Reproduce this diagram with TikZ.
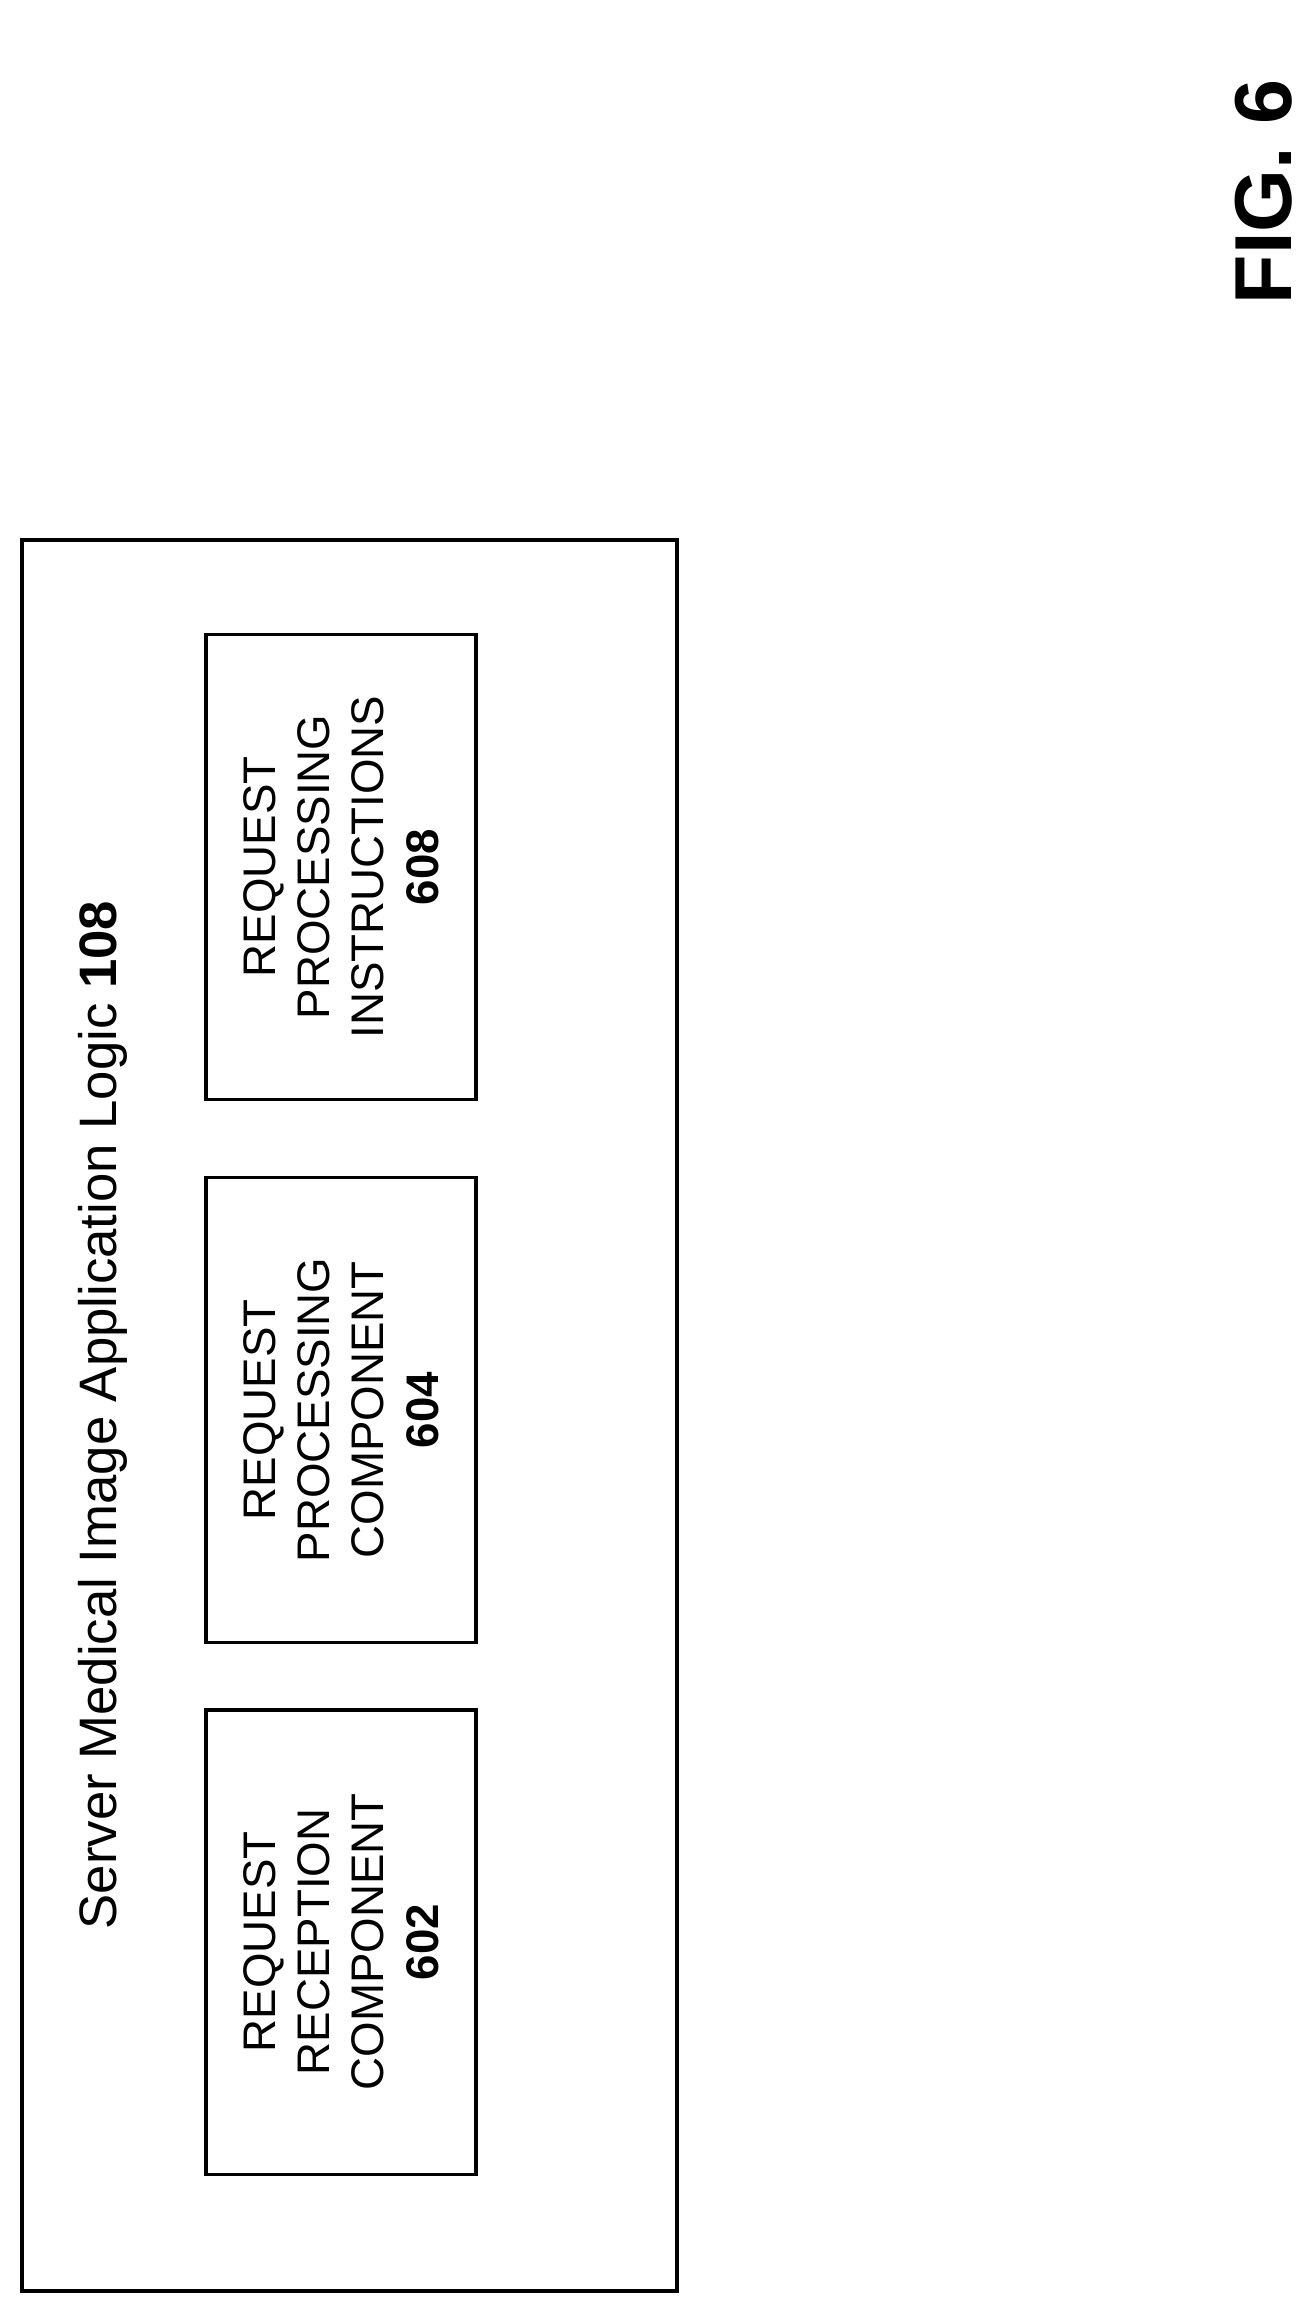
\documentclass[tikz,border=0pt]{standalone}
\usepackage{fontspec}
\setmainfont{Liberation Sans}
\begin{document}
\begin{tikzpicture}[x=0.02cm,y=-0.02cm,
  compbox/.style={draw, line width=2.2pt, rotate=90, minimum width=9.3cm, minimum height=5.4cm, align=center, font=\fontsize{26}{31}\selectfont}]
  \useasboundingbox (0,0) rectangle (1310,2308);
  % outer logic box
  \draw[line width=2.5pt] (22,540) rectangle (677,2291);
  \node[rotate=90, font=\fontsize{30}{36}\selectfont] (title) at (103,1415) {Server Medical Image Application Logic \textbf{108}};
  % components
  \node[compbox] (recv) at (341,1942) {REQUEST\\RECEPTION\\COMPONENT\\\textbf{602}};
  \node[compbox] (proc) at (341,1410) {REQUEST\\PROCESSING\\COMPONENT\\\textbf{604}};
  \node[compbox] (instr) at (341,867) {REQUEST\\PROCESSING\\INSTRUCTIONS\\\textbf{608}};
  % figure label
  \node[rotate=90, font=\fontsize{46}{50}\selectfont\bfseries] (fig) at (1264,192) {FIG. 6};
\end{tikzpicture}
\end{document}
